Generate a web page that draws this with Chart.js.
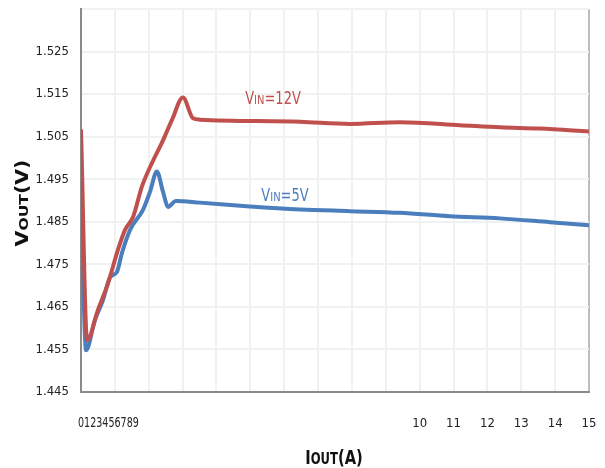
<!DOCTYPE html>
<html>
<head>
<meta charset="utf-8">
<script src="https://cdn.jsdelivr.net/npm/chart.js@4.4.1/dist/chart.umd.min.js"></script>
<style>
  body { margin: 0; background: #fff; }
  #wrap { width: 605px; height: 468px; }
</style>
</head>
<body>
<div id="wrap"><canvas id="vout" width="605" height="468"></canvas></div>
<script>
// values
const vin12Current = [0, 0.18, 0.50, 0.80, 1.09, 1.30, 1.54, 1.80, 2.10, 2.39, 2.69, 3.01, 3.31, 3.51, 6.47, 7.94, 9.42, 11.19, 12.37, 13.55, 15];
const vin12Vout = [1.5067, 1.4572, 1.4643, 1.4706, 1.4784, 1.4831, 1.4862, 1.4933, 1.4989, 1.5036, 1.5090, 1.5142, 1.5093, 1.5090, 1.5085, 1.5080, 1.5084, 1.5077, 1.5072, 1.5069, 1.5062];

const vin5Current = [0, 0.15, 0.41, 0.65, 0.86, 1.06, 1.21, 1.45, 1.83, 2.04, 2.24, 2.42, 2.57, 2.80, 3.51, 4.99, 6.47, 7.94, 9.42, 10.89, 12.37, 13.85, 15];
const vin5Vout = [1.4910, 1.4548, 1.4619, 1.4666, 1.4720, 1.4732, 1.4777, 1.4831, 1.4878, 1.4921, 1.4968, 1.4921, 1.4885, 1.4899, 1.4895, 1.4886, 1.4879, 1.4875, 1.4871, 1.4863, 1.4858, 1.4849, 1.4842];

const xTickValues = [0, 1, 2, 3, 4, 5, 6, 7, 8, 9, 10, 11, 12, 13, 14, 15];
const xTickLabels = ['', '', '', '', '', '', '', '', '', '', '10', '11', '12', '13', '14', '15'];
const crampedLabel = '0123456789';
const yTickValues = [1.445, 1.455, 1.465, 1.475, 1.485, 1.495, 1.505, 1.515, 1.525, 1.535];

const narrow = "'Liberation Sans Narrow', 'DejaVu Sans Condensed', sans-serif";

function toPoints(xs, ys) {
  return xs.map((x, i) => ({ x: x, y: ys[i] }));
}

// draws text made of pieces in different sizes, squeezed by sx
function drawMixed(ctx, parts, x, y, sx, color) {
  ctx.save();
  ctx.fillStyle = color;
  ctx.textBaseline = 'alphabetic';
  ctx.textAlign = 'left';
  let w = 0;
  parts.forEach(p => { ctx.font = p[1]; w += ctx.measureText(p[0]).width; });
  ctx.translate(x, y);
  ctx.scale(sx, 1);
  let cx = -w / 2;
  parts.forEach(p => {
    ctx.font = p[1];
    ctx.fillText(p[0], cx, 0);
    cx += ctx.measureText(p[0]).width;
  });
  ctx.restore();
}

const textPlugin = {
  id: 'texts',
  afterDraw(chart) {
    const ctx = chart.ctx;
    const xs = chart.scales.x;

    // the 0..9 labels run together at the left
    ctx.save();
    ctx.font = '14px ' + narrow;
    ctx.fillStyle = '#222';
    ctx.textBaseline = 'middle';
    ctx.translate(xs.getPixelForValue(0) - 3, 423);
    ctx.scale(0.76, 1);
    ctx.fillText(crampedLabel, 0, 0);
    ctx.restore();

    // series labels
    drawMixed(ctx, [['V', '17px ' + narrow], ['IN', '13px ' + narrow], ['=12V', '17px ' + narrow]],
      273, 104, 0.85, '#C0504D');
    drawMixed(ctx, [['V', '17px ' + narrow], ['IN', '13px ' + narrow], ['=5V', '17px ' + narrow]],
      285, 201, 0.85, '#4A7EBD');

    // x title
    drawMixed(ctx, [['I', 'bold 19px ' + narrow], ['OUT', 'bold 15px ' + narrow], ['(A)', 'bold 19px ' + narrow]],
      334, 464, 0.86, '#111');

    // y title, rotated
    ctx.save();
    ctx.translate(28, 203);
    ctx.rotate(-Math.PI / 2);
    drawMixed(ctx, [['V', 'bold 17px DejaVu Sans'], ['OUT', 'bold 13px DejaVu Sans'], ['(V)', 'bold 17px DejaVu Sans']],
      0, 0, 1.2, '#111');
    ctx.restore();
  }
};

const ctx = document.getElementById('vout').getContext('2d');
new Chart(ctx, {
  type: 'line',
  data: {
    datasets: [
      {
        label: 'VIN=12V',
        data: toPoints(vin12Current, vin12Vout),
        borderColor: '#C0504D',
        borderWidth: 4,
        pointRadius: 0,
        cubicInterpolationMode: 'monotone'
      },
      {
        label: 'VIN=5V',
        data: toPoints(vin5Current, vin5Vout),
        borderColor: '#4A7EBD',
        borderWidth: 4,
        pointRadius: 0,
        cubicInterpolationMode: 'monotone'
      }
    ]
  },
  options: {
    responsive: false,
    animation: false,
    layout: { padding: { left: 0, right: 0, top: 0, bottom: 0 } },
    plugins: { legend: { display: false }, tooltip: { enabled: false } },
    scales: {
      x: {
        type: 'linear',
        min: 0,
        max: 15,
        afterBuildTicks: s => { s.ticks = xTickValues.map(v => ({ value: v })); },
        afterFit: s => { s.height = 76; s.paddingRight = 16; },
        ticks: {
          autoSkip: false,
          maxRotation: 0,
          padding: 24,
          color: '#222',
          font: { family: narrow, size: 13 },
          callback: (v, i) => xTickLabels[i]
        },
        grid: {
          drawTicks: false,
          lineWidth: 2,
          color: c => (c.tick && c.tick.value === 15 ? '#BDBDBD' : '#EEF2F2')
        },
        border: { color: '#8A8A8A', width: 2 }
      },
      y: {
        min: 1.445,
        max: 1.535,
        afterBuildTicks: s => { s.ticks = yTickValues.map(v => ({ value: v })); },
        afterFit: s => { s.width = 81; s.paddingTop = 9; },
        ticks: {
          padding: 12,
          color: '#222',
          font: { family: narrow, size: 13 },
          callback: v => (v > 1.53 ? '' : v.toFixed(3))
        },
        grid: { drawTicks: false, lineWidth: 2, color: '#EEF2F2' },
        border: { color: '#8A8A8A', width: 2 }
      }
    }
  },
  plugins: [textPlugin]
});
</script>
</body>
</html>
